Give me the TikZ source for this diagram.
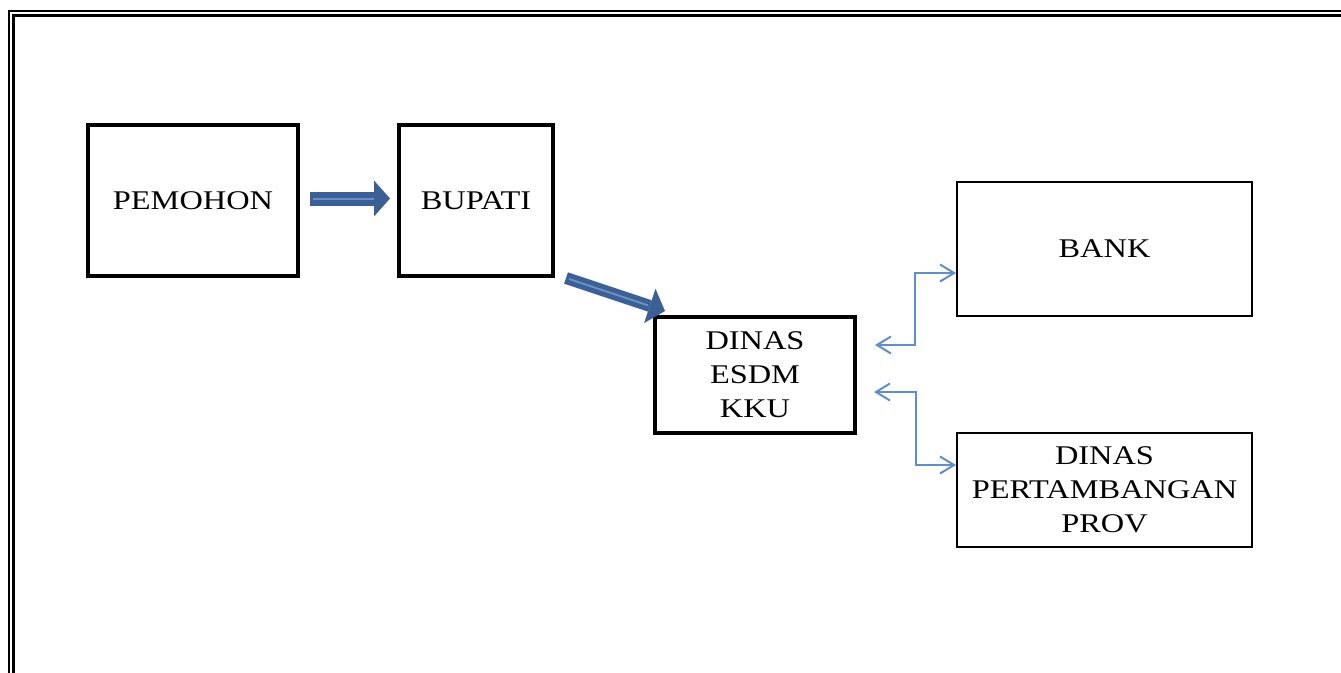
\documentclass[tikz,border=0pt]{standalone}
\usepackage{fontspec}
\setmainfont{Liberation Serif}[FakeStretch=1.2]
\usetikzlibrary{arrows.meta}
\definecolor{birutua}{RGB}{59,96,149}
\definecolor{birumuda}{RGB}{104,143,198}
\definecolor{garis}{RGB}{94,142,206}
\tikzset{
  kotak/.style={draw, inner sep=0pt, align=center},
  tebal/.style={kotak, line width=4pt},
  tipis/.style={kotak, line width=2pt},
  panah/.style={birutua, line width=14pt, -{Triangle[length=16pt,width=36pt,line width=0pt]}},
  kilap/.style={birumuda, line width=2pt},
  hubung/.style={garis, line width=2pt, <->, >={Straight Barb[length=14pt,width=17pt]}}
}
\begin{document}
\begin{tikzpicture}[x=1pt, y=-1pt, font=\fontsize{27}{34}\selectfont]
        \useasboundingbox (0,0) rectangle (1341,672);
        % Bingkai
        \draw[line width=2.5pt, double distance=2pt] (11,700) |- (1400,13);

        % Kotak
        \node[tebal, minimum width=210pt, minimum height=151pt] (pemohon) at (193,200.5) {PEMOHON};
        \node[tebal, minimum width=154pt, minimum height=151pt] (bupati) at (476,200.5) {BUPATI};
        \node[tebal, minimum width=200pt, minimum height=116pt] (esdm) at (755,375) {DINAS\\ESDM\\KKU};
        \node[tipis, minimum width=295pt, minimum height=134pt] (bank) at (1104.5,249) {BANK};
        \node[tipis, minimum width=295pt, minimum height=114pt] (prov) at (1104.5,490) {DINAS\\PERTAMBANGAN\\PROV};

        % Panah besar
        \draw[panah, shorten <=10pt, shorten >=7pt] ([yshift=2pt]pemohon.east) -- ([yshift=2pt]bupati.west);
        \draw[kilap, shorten <=13pt, shorten >=23pt] ([yshift=2pt]pemohon.east) -- ([yshift=2pt]bupati.west);
        \draw[panah, line width=12pt] ([shift={(11,0)}]bupati.south east) -- ([shift={(12,-4)}]esdm.north west);
        \draw[kilap, shorten <=3pt, shorten >=18pt] ([shift={(11,0)}]bupati.south east) -- ([shift={(12,-4)}]esdm.north west);

        % Hubungan
        \coordinate (a1) at (875,345);
        \coordinate (t1) at (915,273);
        \draw[hubung] (a1) -| (t1) -- (bank.west |- t1);
        \coordinate (a2) at (874,392);
        \coordinate (t2) at (916,465);
        \draw[hubung] (a2) -| (t2) -- (prov.west |- t2);
    \end{tikzpicture}
\end{document}
